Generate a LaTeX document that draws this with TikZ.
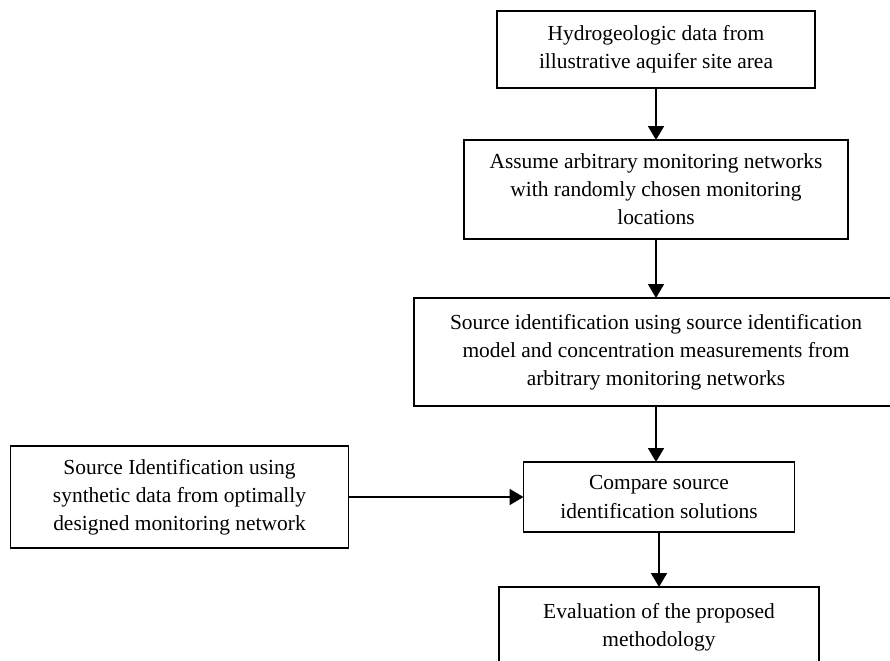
\documentclass[tikz,border=0pt]{standalone}
\usepackage{fontspec}
\setmainfont{Liberation Serif}
\usepackage{tikz}
\usetikzlibrary{arrows.meta,positioning,calc}

\begin{document}
\begin{tikzpicture}[node distance=1.6cm,outer sep=0pt,inner sep=2pt]
        \tikzset{box/.style={align=center,shape=rectangle,draw,line width=1.5pt,font=\fontsize{18.3}{24}\selectfont}}
        \tikzset{flow/.style={draw,line width=1.5pt,-{Triangle[length=4.2mm,width=4.8mm]}}}

        \useasboundingbox (0,0) rectangle (26.7,-19.8);

        \node [box,minimum width=9.54cm,minimum height=2.31cm] (hydro) at (19.68,-1.485) {Hydrogeologic data from\\illustrative aquifer site area};
        \node [box,minimum width=11.52cm,minimum height=2.97cm,below=1.56cm of hydro] (assume) {Assume arbitrary monitoring networks\\with randomly chosen monitoring\\locations};
        \node [box,minimum width=14.52cm,minimum height=3.24cm,below=1.77cm of assume] (srcid) {Source identification using source identification\\model and concentration measurements from\\arbitrary monitoring networks};
        \node [box,minimum width=8.13cm,minimum height=2.1cm,below=1.68cm of srcid,xshift=0.09cm] (compare) {Compare source\\identification solutions};
        \node [box,minimum width=10.14cm,minimum height=3.06cm,left=5.25cm of compare] (synth) {Source Identification using\\synthetic data from optimally\\designed monitoring network};
        \node [box,minimum width=9.6cm,minimum height=2.4cm,below=1.65cm of compare] (eval) {Evaluation of the proposed\\methodology};

        \draw [flow] (hydro) -- (assume);
        \draw [flow] (assume) -- (srcid);
        \draw [flow] (srcid.south) -- (srcid.south |- compare.north);
        \draw [flow] (synth) -- (compare);
        \draw [flow] (compare) -- (eval);
    \end{tikzpicture}
\end{document}
